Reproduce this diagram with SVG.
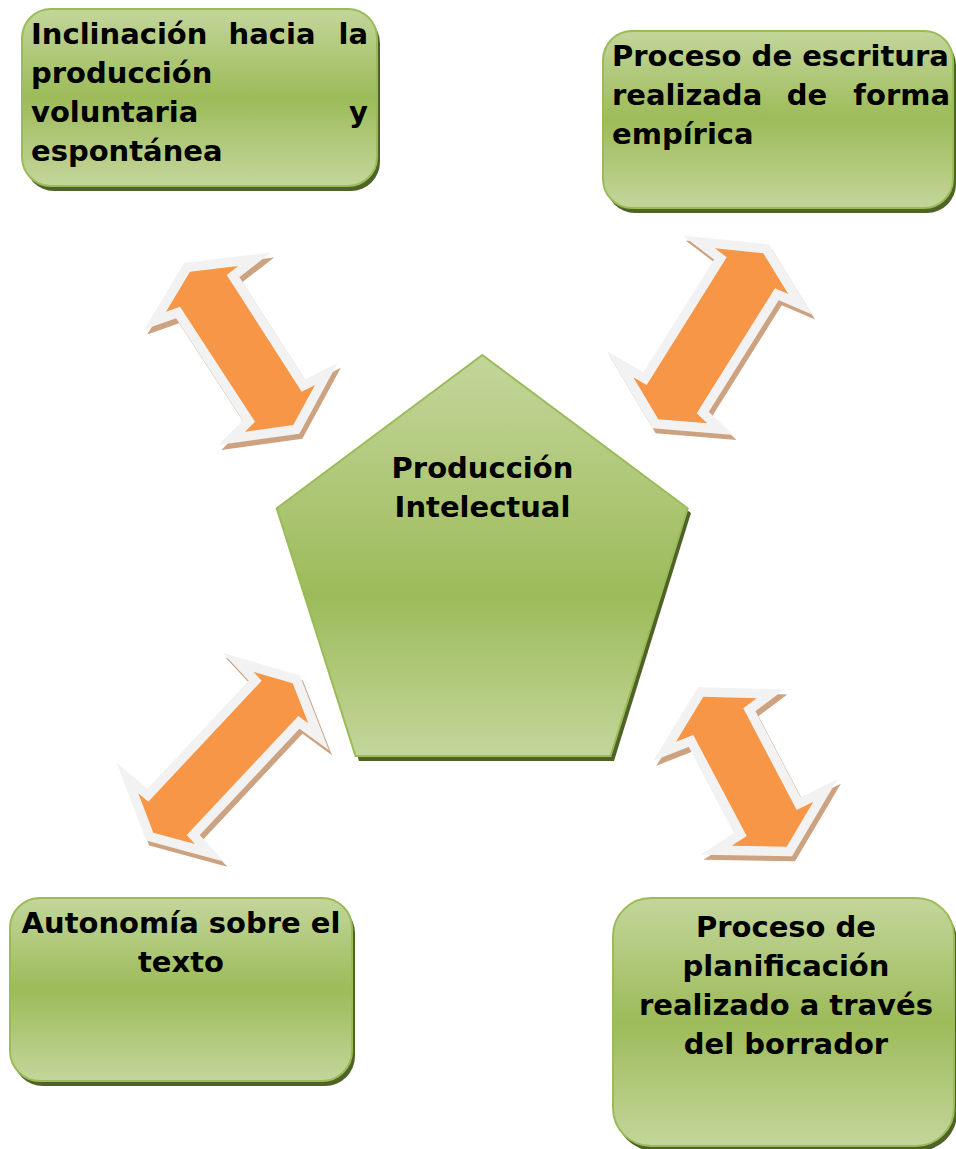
<svg xmlns="http://www.w3.org/2000/svg" width="956" height="1149" viewBox="0 0 956 1149">
<defs>
<linearGradient id="g" x1="0" y1="0" x2="0" y2="1">
<stop offset="0" stop-color="#c3d69b"/>
<stop offset="0.5" stop-color="#9dbb59"/>
<stop offset="1" stop-color="#c3d69b"/>
</linearGradient>
<linearGradient id="gp" x1="0" y1="0" x2="0" y2="1">
<stop offset="0" stop-color="#c3d69b"/>
<stop offset="0.6" stop-color="#9dbb59"/>
<stop offset="1" stop-color="#c3d69b"/>
</linearGradient>
<style>
.sh{fill:#4f6228;}
.bx{fill:url(#g);stroke:#9bbb59;stroke-width:2;}
.pt{fill:url(#gp);stroke:#9bbb59;stroke-width:2;}
.t{font-family:"DejaVu Sans",Verdana,sans-serif;font-weight:bold;font-size:29px;fill:#000;}
.m{text-anchor:middle;}
.e{text-anchor:end;}
.as{fill:#cda280;stroke:#cda280;stroke-width:19;stroke-linejoin:miter;stroke-miterlimit:12;}
.ar{fill:#f79646;stroke:#f2f2f2;stroke-width:19;stroke-linejoin:miter;stroke-miterlimit:12;paint-order:stroke;}
</style>
</defs>
<rect width="956" height="1149" fill="#ffffff"/>

<g id="connectors">
<g id="arrow1">
<polygon class="as" transform="translate(3,5)" points="190,271.7 238.3,266 226.7,275 301.7,391.7 315,385 293.3,425 245,431.7 255,421.7 180,306.7 166,311.7"/>
<polygon class="ar" points="190,271.7 238.3,266 226.7,275 301.7,391.7 315,385 293.3,425 245,431.7 255,421.7 180,306.7 166,311.7"/>
</g>
<g id="arrow2">
<polygon class="as" transform="translate(3,5)" points="763.3,253.3 788.3,294 775,288.3 696.7,413.3 707.3,423.3 658.3,419.3 633.3,377.3 646.7,385 726.7,257.3 715,248.3"/>
<polygon class="ar" points="763.3,253.3 788.3,294 775,288.3 696.7,413.3 707.3,423.3 658.3,419.3 633.3,377.3 646.7,385 726.7,257.3 715,248.3"/>
</g>
<g id="arrow3">
<polygon class="as" transform="translate(3,5)" points="292.7,683.3 308.3,723.3 298.3,716 186.7,835 195,844 153.3,832.7 138.3,793.3 148.3,801.7 261.7,680.7 253.3,671.7"/>
<polygon class="ar" points="292.7,683.3 308.3,723.3 298.3,716 186.7,835 195,844 153.3,832.7 138.3,793.3 148.3,801.7 261.7,680.7 253.3,671.7"/>
</g>
<g id="arrow4">
<polygon class="as" transform="translate(3,5)" points="703.3,696.7 756.7,698.3 743.3,708.3 796.7,810 813.3,801.7 786.7,846.7 731.7,845.7 746.7,836 693.3,735 676,741.7"/>
<polygon class="ar" points="703.3,696.7 756.7,698.3 743.3,708.3 796.7,810 813.3,801.7 786.7,846.7 731.7,845.7 746.7,836 693.3,735 676,741.7"/>
</g>
</g>

<g id="center">
<polygon class="sh" points="485.5,359 691,513 614,761 359,761 280,512"/>
<polygon class="pt" points="482.3,355 687.7,508.3 610.5,756 355.5,756 276.7,508.3"/>
<text class="t m" x="482.5" y="478">Producción</text>
<text class="t m" x="482.5" y="517">Intelectual</text>
</g>

<g id="node1">
<rect class="sh" x="25" y="14" width="355" height="177" rx="29"/>
<rect class="bx" x="22" y="9" width="355" height="177" rx="29"/>
<text class="t" x="31" y="44">Inclinación</text>
<text class="t m" x="272" y="44">hacia</text>
<text class="t e" x="368" y="44">la</text>
<text class="t" x="31" y="83">producción</text>
<text class="t" x="31" y="122">voluntaria</text>
<text class="t e" x="368" y="122">y</text>
<text class="t" x="31" y="161">espontánea</text>
</g>

<g id="node2">
<rect class="sh" x="606" y="36" width="350" height="177" rx="29"/>
<rect class="bx" x="603" y="31" width="350" height="177" rx="29"/>
<text class="t" x="612" y="66">Proceso de escritura</text>
<text class="t" x="612" y="105">realizada</text>
<text class="t m" x="807" y="105">de</text>
<text class="t e" x="950" y="105">forma</text>
<text class="t" x="612" y="144">empírica</text>
</g>

<g id="node3">
<rect class="sh" x="13" y="903" width="342" height="183" rx="30"/>
<rect class="bx" x="10" y="898" width="342" height="183" rx="30"/>
<text class="t m" x="181" y="933">Autonomía sobre el</text>
<text class="t m" x="181" y="972">texto</text>
</g>

<g id="node4">
<rect class="sh" x="616" y="903" width="341" height="248" rx="38"/>
<rect class="bx" x="613" y="898" width="341" height="248" rx="38"/>
<text class="t m" x="786" y="937">Proceso de</text>
<text class="t m" x="786" y="976">planificación</text>
<text class="t m" x="786" y="1015">realizado a través</text>
<text class="t m" x="786" y="1054">del borrador</text>
</g>
</svg>
